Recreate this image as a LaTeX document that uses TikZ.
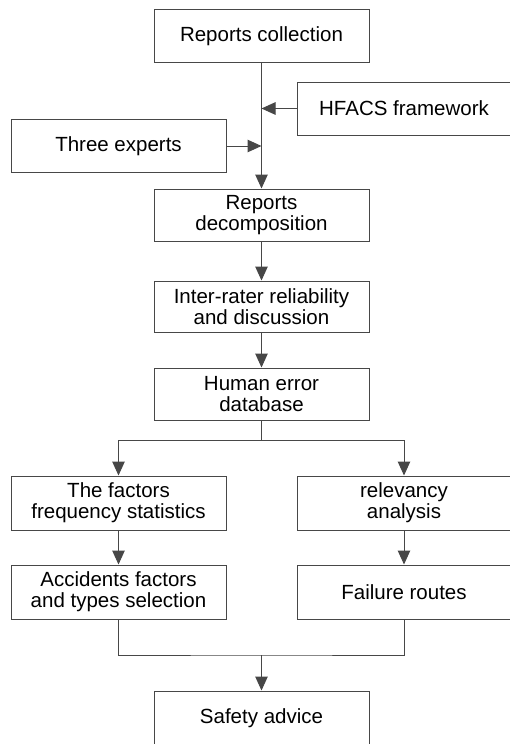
\documentclass[tikz,border=0pt]{standalone}
\usepackage{fontspec}
\setmainfont{Liberation Sans}
\usetikzlibrary{arrows.meta}
\begin{document}
\begin{tikzpicture}[x=1pt,y=-1pt,
  box/.style={draw=black!72,line width=1pt,rectangle,minimum width=215pt,minimum height=53pt,
    align=center,font=\fontsize{20.5}{21}\selectfont,inner sep=0pt,text=black},
  rbox/.style={box,minimum width=214pt},
  conn/.style={draw=black!72,line width=1pt},
  arr/.style={conn,-{Triangle[length=14pt,width=12.5pt]},shorten >=0pt}]
\useasboundingbox (0,0) rectangle (509,744);
\fill[white] (0,0) rectangle (509,744);
\node[box] (rc) at (261.5,36) {Reports collection};
\node[rbox] (hf) at (404,108.5) {HFACS framework};
\node[box] (te) at (118.5,146) {Three experts};
\node[box,minimum height=52pt] (rd) at (261.5,215) {Reports\\decomposition};
\node[box,minimum height=51pt] (ir) at (261.5,306.5) {Inter-rater reliability\\and discussion};
\node[box,minimum height=52pt] (he) at (261.5,394) {Human error\\database};
\node[box,minimum height=54pt] (ff) at (118.5,503) {The factors\\frequency statistics};
\node[rbox,minimum height=54pt] (ra) at (404,503) {relevancy\\analysis};
\node[box,minimum height=54pt] (af) at (118.5,592) {Accidents factors\\and types selection};
\node[rbox,minimum height=54pt] (fr) at (404,592) {Failure routes};
\node[box,minimum height=54pt] (sa) at (261.5,718) {Safety advice};
\coordinate (j1) at (261.5,108.5);
\coordinate (j2) at (261.5,146);
\coordinate (s1) at (261.5,440);
\coordinate (m1) at (261.5,655);
\draw[arr] (rc.south) -- (rd.north);
\draw[arr] (hf.west) -- (j1);
\draw[arr] (te.east) -- (j2);
\draw[arr] (rd.south) -- (ir.north);
\draw[arr] (ir.south) -- (he.north);
\draw[conn] (he.south) -- (s1);
\draw[arr] (s1) -| (ff.north);
\draw[arr] (s1) -| (ra.north);
\draw[arr] (ff.south) -- (af.north);
\draw[arr] (ra.south) -- (fr.north);
\draw[conn] (af.south) |- (m1) -| (fr.south);
\draw[arr] (m1) -- (sa.north);
\end{tikzpicture}
\end{document}
